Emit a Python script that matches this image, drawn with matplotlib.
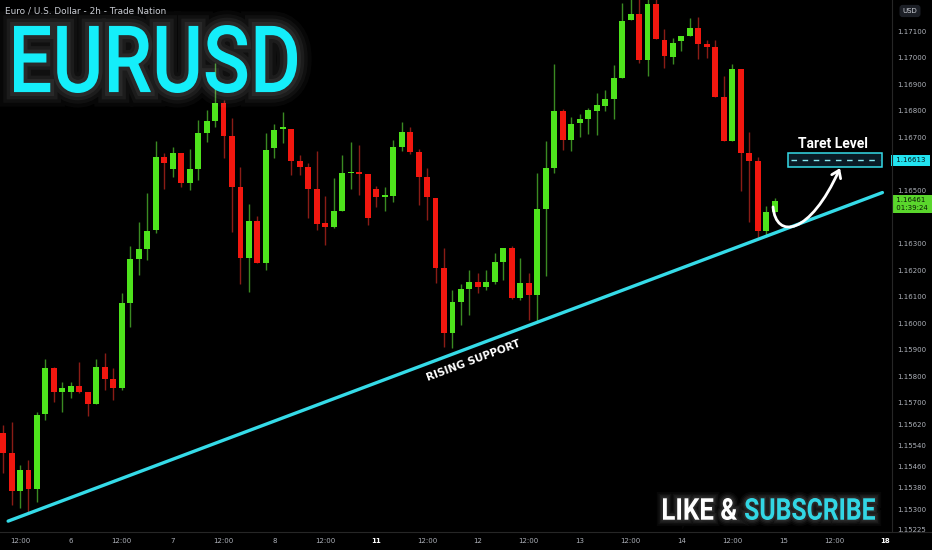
import matplotlib
matplotlib.use("Agg")
import matplotlib.pyplot as plt
import numpy as np
from matplotlib.textpath import TextPath
from matplotlib.font_manager import FontProperties
from matplotlib.patches import PathPatch, Rectangle, FancyArrowPatch
from matplotlib.path import Path
from matplotlib.transforms import Affine2D
from matplotlib.lines import Line2D
import matplotlib.patheffects as pe

# 2h candles, index 0 = day 5 12:00
idx = np.arange(-2, 90)
opens = [1.15587, 1.15512, 1.15368, 1.15447, 1.15376, 1.15658, 1.15832, 1.15741, 1.15741, 1.15764,
         1.15741, 1.15696, 1.15835, 1.15790, 1.15756, 1.16076, 1.16242, 1.16280, 1.16351, 1.16626,
         1.16581, 1.16641, 1.16528, 1.16581, 1.16716, 1.16761, 1.16829, 1.16705, 1.16513, 1.16246,
         1.16385, 1.16227, 1.16660, 1.16731, 1.16731, 1.16611, 1.16588, 1.16505, 1.16377, 1.16362,
         1.16423, 1.16564, 1.16566, 1.16562, 1.16505, 1.16475, 1.16479, 1.16664, 1.16720, 1.16645,
         1.16551, 1.16472, 1.16208, 1.15963, 1.16080, 1.16129, 1.16155, 1.16136, 1.16155, 1.16231,
         1.16283, 1.16095, 1.16152, 1.16106, 1.16430, 1.16585, 1.16799, 1.16690, 1.16754, 1.16769,
         1.16799, 1.16818, 1.16844, 1.16923, 1.17142, 1.17164, 1.16991, 1.17202, 1.17066, 1.17002,
         1.17063, 1.17081, 1.17112, 1.17051, 1.17040, 1.16852, 1.16686, 1.16957, 1.16641, 1.16611,
         1.16347, 1.16419]
highs = [1.15617, 1.15628, 1.15466, 1.15485, 1.15666, 1.15865, 1.15835, 1.15779, 1.15779, 1.15854,
         1.15741, 1.15865, 1.15888, 1.15832, 1.16114, 1.16291, 1.16381, 1.16490, 1.16686, 1.16641,
         1.16664, 1.16641, 1.16656, 1.16765, 1.16803, 1.16980, 1.16841, 1.16773, 1.16588, 1.16449,
         1.16404, 1.16716, 1.16750, 1.16795, 1.16731, 1.16633, 1.16603, 1.16649, 1.16479, 1.16547,
         1.16633, 1.16682, 1.16671, 1.16562, 1.16517, 1.16513, 1.16690, 1.16758, 1.16739, 1.16656,
         1.16585, 1.16472, 1.16283, 1.16125, 1.16148, 1.16200, 1.16189, 1.16200, 1.16265, 1.16283,
         1.16291, 1.16246, 1.16189, 1.16566, 1.16686, 1.16976, 1.16807, 1.16777, 1.16788, 1.16810,
         1.16867, 1.16878, 1.16972, 1.17206, 1.17230, 1.17230, 1.17230, 1.17230, 1.17108, 1.17074,
         1.17081, 1.17149, 1.17153, 1.17066, 1.17066, 1.16931, 1.16976, 1.16957, 1.16720, 1.16626,
         1.16441, 1.16472]
lows = [1.15436, 1.15316, 1.15304, 1.15289, 1.15327, 1.15636, 1.15704, 1.15666, 1.15719, 1.15737,
        1.15651, 1.15696, 1.15749, 1.15711, 1.15749, 1.15986, 1.16182, 1.16238, 1.16340, 1.16505,
        1.16551, 1.16513, 1.16502, 1.16539, 1.16682, 1.16739, 1.16622, 1.16344, 1.16148, 1.16118,
        1.16227, 1.16200, 1.16622, 1.16679, 1.16558, 1.16558, 1.16396, 1.16351, 1.16295, 1.16359,
        1.16423, 1.16505, 1.16483, 1.16370, 1.16438, 1.16423, 1.16457, 1.16649, 1.16637, 1.16445,
        1.16389, 1.16152, 1.15911, 1.15907, 1.15993, 1.16031, 1.16114, 1.16125, 1.16148, 1.16163,
        1.16091, 1.16088, 1.16012, 1.16001, 1.16178, 1.16566, 1.16652, 1.16649, 1.16701, 1.16713,
        1.16709, 1.16799, 1.16769, 1.16923, 1.17142, 1.16980, 1.16931, 1.17070, 1.16961, 1.16976,
        1.17025, 1.17081, 1.16995, 1.16999, 1.16852, 1.16686, 1.16686, 1.16498, 1.16381, 1.16317,
        1.16325, 1.16419]
closes = [1.15512, 1.15368, 1.15447, 1.15376, 1.15655, 1.15832, 1.15741, 1.15756, 1.15764, 1.15741,
          1.15696, 1.15835, 1.15790, 1.15756, 1.16076, 1.16242, 1.16280, 1.16347, 1.16626, 1.16603,
          1.16641, 1.16528, 1.16581, 1.16716, 1.16761, 1.16829, 1.16705, 1.16513, 1.16246, 1.16385,
          1.16227, 1.16652, 1.16728, 1.16733, 1.16611, 1.16588, 1.16505, 1.16374, 1.16362, 1.16423,
          1.16566, 1.16567, 1.16562, 1.16396, 1.16475, 1.16479, 1.16664, 1.16720, 1.16645, 1.16551,
          1.16475, 1.16208, 1.15963, 1.16080, 1.16129, 1.16155, 1.16136, 1.16155, 1.16231, 1.16283,
          1.16095, 1.16152, 1.16106, 1.16430, 1.16585, 1.16799, 1.16690, 1.16750, 1.16769, 1.16803,
          1.16822, 1.16844, 1.16923, 1.17138, 1.17164, 1.16991, 1.17202, 1.17070, 1.17006, 1.17055,
          1.17081, 1.17112, 1.17051, 1.17040, 1.16852, 1.16686, 1.16957, 1.16641, 1.16611, 1.16347,
          1.16419, 1.16461]

# 1.16600 and 1.16400 sit under the price tags, so they are left out
price_ticks = [1.17100, 1.17000, 1.16900, 1.16800, 1.16700, 1.16500, 1.16300,
               1.16200, 1.16100, 1.16000, 1.15900, 1.15800, 1.15700, 1.15620, 1.15540, 1.15460,
               1.15380, 1.15300, 1.15225]
time_ticks = [0, 6, 12, 18, 24, 30, 36, 42, 48, 54, 60, 66, 72, 78, 84, 90, 96, 102]
time_labels = ["12:00", "6", "12:00", "7", "12:00", "8", "12:00", "11", "12:00", "12",
               "12:00", "13", "12:00", "14", "12:00", "15", "12:00", "18"]

support = ([-1.4, 101.7], [1.15255, 1.16492])
target_price = 1.16613
last_price = 1.16461

GREEN, RED = "#4ee31c", "#f2170f"
GREEN_W, RED_W = "#3a8a22", "#8a1c16"
CYAN = "#35dbe8"
W, H = 932, 550

fig = plt.figure(figsize=(9.32, 5.5), dpi=100, facecolor="black")
ax = fig.add_axes([0, 18 / H, 892 / W, 532 / H])
ax.set_facecolor("black")

o = np.array(opens); c = np.array(closes)
up = c >= o
body_lo = np.minimum(o, c)
body_h = np.maximum(np.abs(c - o), 0.00006)
ax.vlines(idx[up], np.array(lows)[up], np.array(highs)[up], color=GREEN_W, lw=1, zorder=2)
ax.vlines(idx[~up], np.array(lows)[~up], np.array(highs)[~up], color=RED_W, lw=1, zorder=2)
ax.bar(idx[up], body_h[up], 0.7, bottom=body_lo[up], color=GREEN, zorder=3)
ax.bar(idx[~up], body_h[~up], 0.7, bottom=body_lo[~up], color=RED, zorder=3)

# rising support
ax.plot(support[0], support[1], color=CYAN, lw=2.4, solid_capstyle="round", zorder=4)
ax.text(53.5, 1.15860, "RISING SUPPORT", color="white", fontsize=7.6, fontweight="bold",
        rotation=20.6, ha="center", va="center", zorder=5)

# target level box
ax.add_patch(Rectangle((90.6, 1.16588), 11.05, 0.00053, facecolor="#0a1b26",
                       edgecolor=CYAN, lw=1.1, zorder=4))
ax.plot([90.9, 101.4], [target_price, target_price], color="#8ceaf2", lw=1,
        dashes=(4, 4), zorder=5)
ax.text(95.9, 1.16675, "Taret Level", color="white", fontsize=10, fontweight="bold",
        family=["Roboto", "DejaVu Sans"], ha="center", va="center", zorder=5)

# curved arrow
arrow_path = Path([(88.8, 1.16438), (89.15, 1.16313), (93.16, 1.16332), (96.7, 1.16584)],
                  [Path.MOVETO, Path.CURVE4, Path.CURVE4, Path.CURVE4])
ax.add_patch(FancyArrowPatch(path=arrow_path, arrowstyle="->,head_length=5,head_width=3.5",
                             color="white", lw=2, transform=ax.transData, zorder=6))

ax.set_xlim(-2.36, 102.83)
ax.set_ylim(1.15214, 1.17217)

ax.yaxis.tick_right()
ax.set_yticks(price_ticks)
ax.set_yticklabels(["%.5f" % p for p in price_ticks])
ax.tick_params(axis="y", length=0, pad=4, labelsize=5, labelcolor="#aeb2ba")
ax.set_xticks(time_ticks)
ax.set_xticklabels(time_labels)
ax.tick_params(axis="x", length=0, pad=4.5, labelsize=5, labelcolor="#aeb2ba")
for t in ax.get_xticklabels():
    if t.get_text() in ("11", "18"):
        t.set_fontweight("bold")
        t.set_color("white")
for s in ax.spines.values():
    s.set_visible(False)

fig.add_artist(Line2D([0, 1], [18 / H, 18 / H], color="#262626", lw=0.8))
fig.add_artist(Line2D([892 / W, 892 / W], [18 / H, 1], color="#262626", lw=0.8))

# price tags
ytr = ax.get_yaxis_transform()
ax.text(1.002, target_price, " 1.16613 ", transform=ytr, fontsize=5, color="#041418",
        va="center", ha="left", clip_on=False, zorder=10,
        bbox=dict(boxstyle="square,pad=0.35", fc="#22e3f0", ec="none"))
ax.text(1.002, 1.16449, " 1.16461  \n 01:39:24 ", transform=ytr, fontsize=5, color="#0b1a05",
        va="center", ha="left", clip_on=False, zorder=10, linespacing=1.25,
        bbox=dict(boxstyle="square,pad=0.3", fc="#5ad62c", ec="none"))
fig.text(910 / W, 1 - 11 / H, "USD", fontsize=5, color="#d0d3da", ha="center", va="center",
         bbox=dict(boxstyle="round,pad=0.45", fc="#1c1f26", ec="none"))

fig.text(5 / W, 1 - 11 / H, "Euro / U.S. Dollar - 2h - Trade Nation", fontsize=6.4,
         color="#c8cbd2", family=["Liberation Sans Narrow", "DejaVu Sans"], va="center")


def fit_text(s, box, color, glow, weight="bold"):
    fp = FontProperties(family=["Roboto", "DejaVu Sans"], weight=weight)
    tp = TextPath((0, 0), s, size=100, prop=fp)
    bb = tp.get_extents()
    x0, y0, x1, y1 = box
    tr = (Affine2D().translate(-bb.x0, -bb.y0)
          .scale((x1 - x0) / W / bb.width, (y1 - y0) / H / bb.height)
          .translate(x0 / W, 1 - y1 / H))
    patch = PathPatch(tr.transform_path(tp), facecolor=color, edgecolor=color, lw=0,
                      transform=fig.transFigure, zorder=20)
    patch.set_path_effects([pe.Stroke(linewidth=glow * 3, foreground="white", alpha=0.03),
                            pe.Stroke(linewidth=glow * 2.2, foreground="white", alpha=0.04),
                            pe.Stroke(linewidth=glow * 1.5, foreground="white", alpha=0.05),
                            pe.Stroke(linewidth=glow * 0.8, foreground="white", alpha=0.06),
                            pe.Normal()])
    fig.add_artist(patch)


fit_text("EURUSD", (14, 25, 297, 93), "#14eefa", 7, weight="medium")
fit_text("LIKE &", (663, 498, 737, 520), "white", 3)
fit_text("SUBSCRIBE", (745, 498, 875, 520), "#32d6e4", 3)

fig.savefig("out.png", dpi=100, facecolor="black")
